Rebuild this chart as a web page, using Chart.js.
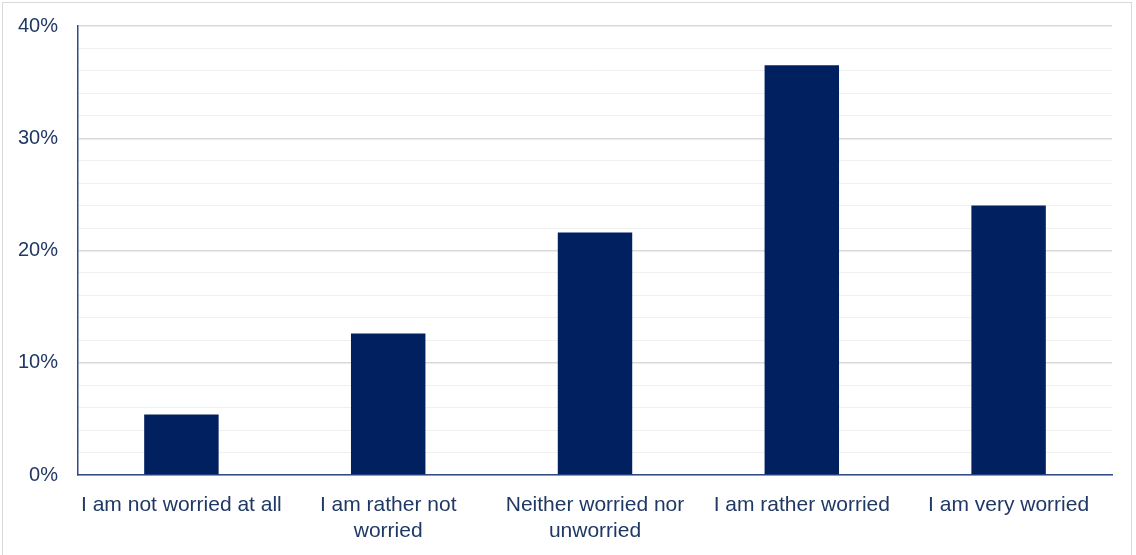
<!DOCTYPE html>
<html>
<head>
<meta charset="utf-8">
<script src="https://cdn.jsdelivr.net/npm/chart.js@4/dist/chart.umd.min.js"></script>
<style>
  html, body { margin: 0; padding: 0; background: #fff; }
  #wrap { position: absolute; left: 0; top: 0; width: 1136px; height: 555px; }
  #frame { position: absolute; left: 2px; top: 2px; width: 1130px; height: 560px; border: 1px solid #d9d9d9; box-sizing: border-box; pointer-events: none; }
</style>
</head>
<body>
<div id="wrap">
  <canvas id="worryChart" width="1136" height="555"></canvas>
  <div id="frame"></div>
</div>
<script>
    // Answer categories (wrapped onto two lines where needed)
    var categories = [
        ['I am not worried at all'],
        ['I am rather not', 'worried'],
        ['Neither worried nor', 'unworried'],
        ['I am rather worried'],
        ['I am very worried']
    ];
    // Share of respondents, in percent
    var shares = [5.4, 12.6, 21.6, 36.5, 24.0];
    var yTicks = [0, 10, 20, 30, 40];

    var navy = '#002060';
    var textColor = '#1F3864';

    var ctx = document.getElementById('worryChart').getContext('2d');
    var worryChart = new Chart(ctx, {
        type: 'bar',
        data: {
            labels: categories,
            datasets: [{
                data: shares,
                backgroundColor: navy,
                borderWidth: 0,
                categoryPercentage: 1,
                barPercentage: 0.36
            }]
        },
        options: {
            responsive: false,
            animation: false,
            layout: {
                padding: { top: 26, right: 24, bottom: 0, left: 0 }
            },
            plugins: {
                legend: { display: false },
                tooltip: { enabled: false }
            },
            scales: {
                x: {
                    afterFit: function (scale) { scale.height = 80; },
                    grid: { display: false, drawTicks: false },
                    border: { display: true, color: '#2F4A85', width: 1.5 },
                    ticks: {
                        color: textColor,
                        font: { family: 'Liberation Sans', size: 21, lineHeight: 1.24 },
                        padding: 17,
                        maxRotation: 0,
                        autoSkip: false
                    }
                },
                y: {
                    min: 0,
                    max: 40,
                    afterFit: function (scale) {
                        // keep the plot top fixed by the layout padding, not the tick labels
                        scale.width = 78;
                        scale.paddingTop = 0;
                        scale.paddingBottom = 0;
                    },
                    afterBuildTicks: function (scale) {
                        var t = [];
                        for (var v = 0; v <= 40; v += 2) t.push({ value: v });
                        scale.ticks = t;
                    },
                    grid: {
                        drawTicks: false,
                        color: function (c) {
                            if (c.tick && yTicks.indexOf(c.tick.value) !== -1) return '#d9d9d9';
                            return '#f0f0f0';
                        },
                        lineWidth: function (c) {
                            if (c.tick && yTicks.indexOf(c.tick.value) !== -1) return 1.5;
                            return 1;
                        }
                    },
                    border: { display: true, color: '#2F4A85', width: 1.5 },
                    ticks: {
                        color: textColor,
                        font: { family: 'Liberation Sans', size: 20 },
                        padding: 20,
                        autoSkip: false,
                        callback: function (value) {
                            return yTicks.indexOf(value) !== -1 ? value + '%' : '';
                        }
                    }
                }
            }
        }
    });
</script>
</body>
</html>
